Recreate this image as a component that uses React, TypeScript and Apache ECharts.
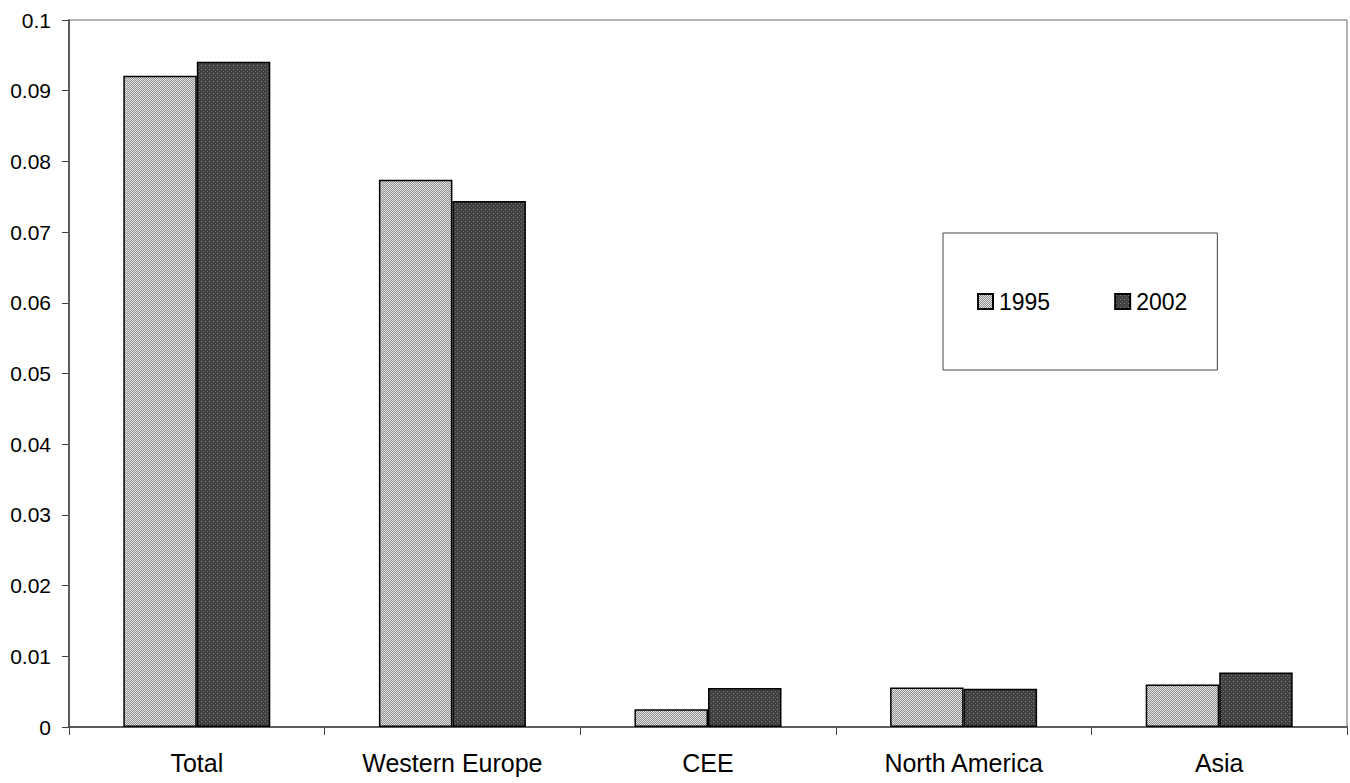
import React, { useEffect, useRef } from "react";
import * as echarts from "echarts";

const categories = ["Total", "Western Europe", "CEE", "North America", "Asia"];
const seriesNames = ["1995", "2002"];
const values1995 = [0.0921, 0.0774, 0.0025, 0.0056, 0.006];
const values2002 = [0.0941, 0.0744, 0.0055, 0.0054, 0.0077];

function makeHatch(): HTMLCanvasElement {
  const c = document.createElement("canvas");
  c.width = 4;
  c.height = 4;
  const ctx = c.getContext("2d")!;
  ctx.fillStyle = "#e6e6e6";
  ctx.fillRect(0, 0, 4, 4);
  ctx.fillStyle = "#8c8c8c";
  for (let i = 0; i < 4; i++) {
    ctx.fillRect((3 - i + 4) % 4, i, 1, 1);
    ctx.fillRect((5 - i + 4) % 4, i, 1, 1);
  }
  return c;
}

function makeDots(): HTMLCanvasElement {
  const c = document.createElement("canvas");
  c.width = 4;
  c.height = 4;
  const ctx = c.getContext("2d")!;
  ctx.fillStyle = "#404040";
  ctx.fillRect(0, 0, 4, 4);
  ctx.fillStyle = "#8a8a8a";
  ctx.fillRect(1, 1, 1, 1);
  ctx.fillStyle = "#6a6a6a";
  ctx.fillRect(3, 3, 1, 1);
  return c;
}

export default function App() {
  const ref = useRef<HTMLDivElement>(null);
  useEffect(() => {
    if (!ref.current) return;
    const chart = echarts.init(ref.current, null, { renderer: "svg" });
    const hatch = { image: makeHatch(), repeat: "repeat", imageWidth: 4, imageHeight: 4 };
    const dots = { image: makeDots(), repeat: "repeat", imageWidth: 4, imageHeight: 4 };
    const font = "'Liberation Sans', Arial, sans-serif";
    chart.setOption({
      animation: false,
      backgroundColor: "#ffffff",
      textStyle: { fontFamily: font },
      grid: {
        left: 69,
        right: 3,
        top: 20,
        bottom: 56,
        show: true,
        borderColor: "#9a9a9a",
        borderWidth: 1.5,
        containLabel: false,
      },
      legend: {
        left: 943,
        top: 233,
        orient: "horizontal",
        itemWidth: 15,
        itemHeight: 15,
        itemGap: 64,
        padding: [57, 30, 57, 34],
        borderColor: "#444444",
        borderWidth: 1,
        backgroundColor: "#ffffff",
        textStyle: { fontSize: 23, color: "#000", fontFamily: font, padding: [0, 0, 0, 1] },
        data: seriesNames.map((n) => ({ name: n, icon: "rect" })),
      },
      xAxis: {
        type: "category",
        data: categories,
        axisLine: { lineStyle: { color: "#404040", width: 1.5 } },
        axisTick: { show: true, length: 8, inside: false, lineStyle: { color: "#404040" } },
        axisLabel: { fontSize: 25, color: "#000", margin: 23, fontFamily: font },
      },
      yAxis: {
        type: "value",
        min: 0,
        max: 0.1,
        interval: 0.01,
        splitLine: { show: false },
        axisLine: { show: true, lineStyle: { color: "#404040", width: 1.5 } },
        axisTick: { show: true, length: 7, inside: false, lineStyle: { color: "#404040" } },
        axisLabel: {
          fontSize: 21,
          color: "#000",
          margin: 18,
          fontFamily: font,
          formatter: (v: number) => String(Math.round(v * 100) / 100),
        },
      },
      series: [
        {
          name: seriesNames[0],
          type: "bar",
          data: values1995,
          barWidth: 73.5,
          barGap: "0%",
          itemStyle: { color: hatch, borderColor: "#000", borderWidth: 1.5 },
        },
        {
          name: seriesNames[1],
          type: "bar",
          data: values2002,
          barWidth: 73.5,
          barGap: "0%",
          itemStyle: { color: dots, borderColor: "#000", borderWidth: 1.5 },
        },
      ],
    });
    return () => chart.dispose();
  }, []);
  return (
    <div
      ref={ref}
      style={{ position: "fixed", left: 0, top: 0, width: 1350, height: 783 }}
    />
  );
}
